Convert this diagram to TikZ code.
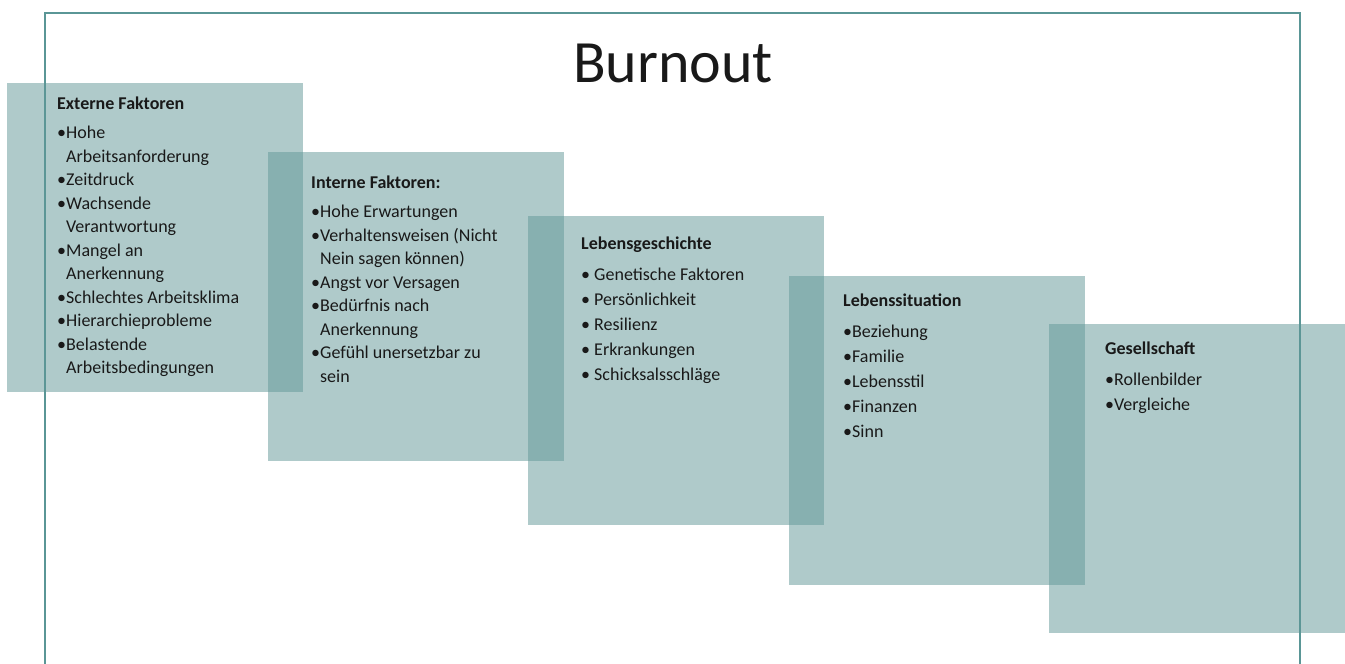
\documentclass[tikz,border=0pt]{standalone}
\usepackage{fontspec}
\setmainfont{Carlito}
\usepackage{tikz}
\usetikzlibrary{positioning}
\definecolor{panelfill}{RGB}{95,150,150}
\definecolor{frameline}{RGB}{90,150,150}

\newcommand{\hd}[1]{\textbf{#1}\\[6pt]}
\newcommand{\ind}{\hphantom{•}}

\begin{document}
\begin{tikzpicture}[x=1pt,y=-1pt,
  panel/.style={fill=panelfill,fill opacity=0.5,anchor=north west,inner sep=0,minimum width=296pt,minimum height=309pt},
  list/.style={anchor=north west,align=left,inner sep=0,text=black!90,font=\fontsize{18}{#1}\selectfont},
  list/.default=23.5]
\useasboundingbox (0,0) rectangle (1345,664);
\draw[frameline,line width=1.2pt] (45,664) |- (1300,13) -- (1300,664);
\node (title) at (673,63) [font=\fontsize{60}{60}\selectfont,text=black!90] {Burnout};
% five overlapping panels
\node (ext) [panel] at (7,83) {};
\node (int) [panel] at (268,152) {};
\node (hist) [panel] at (528,216) {};
\node (sit) [panel] at (789,276) {};
\node (ges) [panel] at (1049,324) {};
% panel texts
\node (extl) [list,below right=13.5pt and 50pt of ext.north west] {\hd{Externe Faktoren}
•Hohe\\ \ind Arbeitsanforderung\\ •Zeitdruck\\ •Wachsende\\ \ind Verantwortung\\ •Mangel an\\ \ind Anerkennung\\
•Schlechtes Arbeitsklima\\ •Hierarchieprobleme\\ •Belastende\\ \ind Arbeitsbedingungen};
\node (intl) [list,below right=23.5pt and 43pt of int.north west] {\hd{Interne Faktoren:}
•Hohe Erwartungen\\ •Verhaltensweisen (Nicht\\ \ind Nein sagen können)\\ •Angst vor Versagen\\
•Bedürfnis nach\\ \ind Anerkennung\\ •Gefühl unersetzbar zu\\ \ind sein};
\node (histl) [list=25,below right=20.5pt and 53pt of hist.north west] {\hd{Lebensgeschichte}
• Genetische Faktoren\\ • Persönlichkeit\\ • Resilienz\\ • Erkrankungen\\ • Schicksalsschläge};
\node (sitl) [list=25,below right=17.5pt and 54pt of sit.north west] {\hd{Lebenssituation}
•Beziehung\\ •Familie\\ •Lebensstil\\ •Finanzen\\ •Sinn};
\node (gesl) [list=25,below right=17.5pt and 56pt of ges.north west] {\hd{Gesellschaft}
•Rollenbilder\\ •Vergleiche};
\end{tikzpicture}
\end{document}
